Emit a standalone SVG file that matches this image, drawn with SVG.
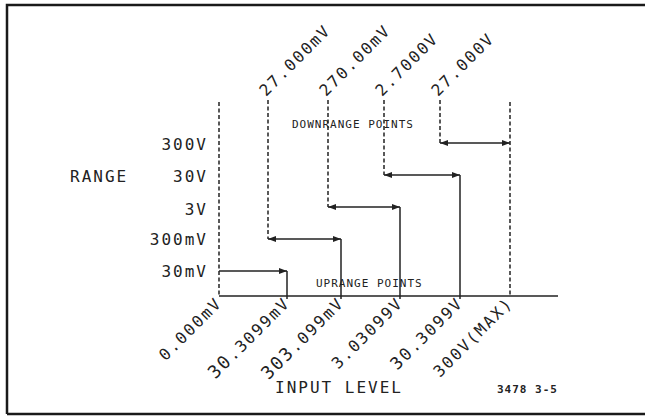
<svg xmlns="http://www.w3.org/2000/svg" width="645" height="417" viewBox="0 0 645 417">
<defs>
<style>
.t{font-family:"DejaVu Sans Mono","Liberation Mono",monospace;font-size:16px;letter-spacing:2px;fill:#222}
.s{font-family:"DejaVu Sans Mono","Liberation Mono",monospace;font-size:11px;letter-spacing:1px;fill:#222}
.d{stroke:#222;stroke-width:1.5;stroke-dasharray:4 2.5;fill:none}
.l{stroke:#222;stroke-width:1.5;fill:none}
.a{stroke:#222;stroke-width:1.5;fill:none;marker-end:url(#ah)}
.b{stroke:#222;stroke-width:1.5;fill:none;marker-start:url(#ah);marker-end:url(#ah)}
</style>
<marker id="ah" markerUnits="userSpaceOnUse" markerWidth="9" markerHeight="7" refX="8" refY="3.5" orient="auto-start-reverse">
<path d="M0,0.5 L8,3.5 L0,6.5 Z" fill="#222"/>
</marker>
</defs>
<rect width="645" height="417" fill="#fff"/>
<path d="M7,414 L7,5 L650,5 M7,414 L650,414" stroke="#1a1a1a" stroke-width="2.5" fill="none"/>

<g id="range-labels">
<text class="t" x="208" y="150" text-anchor="end">300V</text>
<text class="t" x="208" y="182" text-anchor="end">30V</text>
<text class="t" x="208" y="215" text-anchor="end">3V</text>
<text class="t" x="208" y="245" text-anchor="end">300mV</text>
<text class="t" x="208" y="277" text-anchor="end">30mV</text>
<text class="t" x="70" y="182">RANGE</text>
</g>

<g id="downrange-labels">
<text class="t" x="266" y="97" transform="rotate(-45 266 97)">27.000mV</text>
<text class="t" x="326" y="97" transform="rotate(-45 326 97)">270.00mV</text>
<text class="t" x="382" y="97" transform="rotate(-45 382 97)">2.7000V</text>
<text class="t" x="438" y="97" transform="rotate(-45 438 97)">27.000V</text>
<text class="s" x="292" y="128">DOWNRANGE POINTS</text>
</g>

<g id="uprange-labels">
<text class="t" x="223" y="304" text-anchor="end" transform="rotate(-45 223 304)">0.000mV</text>
<text class="t" x="291" y="304" text-anchor="end" transform="rotate(-45 291 304)"><tspan font-size="18">30</tspan>.3099mV</text>
<text class="t" x="345" y="304" text-anchor="end" transform="rotate(-45 345 304)"><tspan font-size="18">303</tspan>.099mV</text>
<text class="t" x="404" y="304" text-anchor="end" transform="rotate(-45 404 304)">3.03099V</text>
<text class="t" x="464" y="304" text-anchor="end" transform="rotate(-45 464 304)"><tspan font-size="17">30</tspan>.3099V</text>
<text class="t" x="514" y="304" text-anchor="end" transform="rotate(-45 514 304)">300V(MAX)</text>
<text class="s" x="316" y="287">UPRANGE POINTS</text>
</g>

<g id="axis-title">
<text class="t" x="275" y="393">INPUT LEVEL</text>
<text class="s" x="497" y="393" font-weight="bold" letter-spacing="0.3">3478 3-5</text>
</g>

<g id="connectors">
<line class="l" x1="219" y1="296" x2="558" y2="296"/>
<line class="d" x1="219" y1="102" x2="219" y2="296"/>
<line class="d" x1="510" y1="102" x2="510" y2="296"/>
<line class="d" x1="268" y1="100" x2="268" y2="239"/>
<line class="d" x1="328" y1="100" x2="328" y2="207"/>
<line class="d" x1="384" y1="100" x2="384" y2="175"/>
<line class="d" x1="440" y1="100" x2="440" y2="143"/>
<line class="a" x1="219" y1="271" x2="287" y2="271"/>
<line class="b" x1="268" y1="239" x2="341" y2="239"/>
<line class="b" x1="328" y1="207" x2="400" y2="207"/>
<line class="b" x1="384" y1="175" x2="460" y2="175"/>
<line class="b" x1="440" y1="143" x2="510" y2="143"/>
<line class="l" x1="287" y1="271" x2="287" y2="299"/>
<line class="l" x1="341" y1="239" x2="341" y2="299"/>
<line class="l" x1="400" y1="207" x2="400" y2="299"/>
<line class="l" x1="460" y1="175" x2="460" y2="299"/>
</g>
</svg>
